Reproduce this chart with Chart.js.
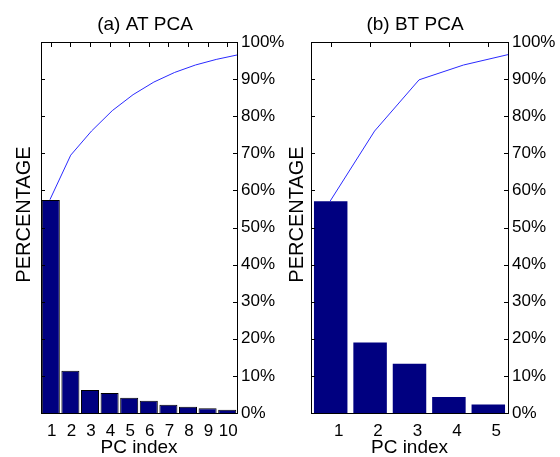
<!DOCTYPE html>
<html>
<head>
<meta charset="utf-8">
<script src="https://cdn.jsdelivr.net/npm/chart.js@4.4.0/dist/chart.umd.min.js"></script>
<style>
  body { margin: 0; background: #fff; width: 560px; height: 457px; position: relative; overflow: hidden; }
  canvas { position: absolute; top: 0; }
  #atChart { left: 0; }
  #btChart { left: 270px; }
</style>
</head>
<body>
<canvas id="atChart" width="290" height="457"></canvas>
<canvas id="btChart" width="290" height="457"></canvas>
<script>
// (a) AT PCA
const atLabels = ['1', '2', '3', '4', '5', '6', '7', '8', '9', '10'];
const atVariance = [57.4, 11.4, 6.2, 5.4, 4.1, 3.3, 2.2, 1.7, 1.3, 0.9];
const atCumulative = [57.5, 69.5, 76.0, 81.5, 85.8, 89.2, 91.8, 93.8, 95.3, 96.5];

// (b) BT PCA
const btLabels = ['1', '2', '3', '4', '5'];
const btVariance = [57.1, 19.0, 13.3, 4.3, 2.3];
const btCumulative = [57.1, 76.0, 89.8, 93.8, 96.6];

const FONT = 'Liberation Sans, Arial, sans-serif';

// matlab style box: top edge + ticks pointing inward
const boxTicks = {
  id: 'boxTicks',
  afterDraw(chart) {
    const {ctx, chartArea: a, scales} = chart;
    ctx.save();
    ctx.strokeStyle = '#000';
    ctx.lineWidth = 1;
    ctx.beginPath();
    ctx.moveTo(a.left, a.top + 0.5);
    ctx.lineTo(a.right, a.top + 0.5);
    scales.y2.ticks.forEach(t => {
      const py = Math.round(scales.y2.getPixelForValue(t.value)) + 0.5;
      ctx.moveTo(a.left, py); ctx.lineTo(a.left + 4, py);
      ctx.moveTo(a.right, py); ctx.lineTo(a.right - 4, py);
    });
    scales.x.ticks.forEach((t, i) => {
      const px = Math.round(scales.x.getPixelForTick(i)) + 0.5;
      ctx.moveTo(px, a.top); ctx.lineTo(px, a.top + 5);
    });
    ctx.stroke();
    ctx.restore();
  }
};

function makeChart(id, title, labels, variance, cumulative, opt) {
  // y label drawn by hand so it can sit a bit above the axis centre like the original
  const yLabel = {
    id: 'yLabel',
    afterDraw(chart) {
      const {ctx, chartArea: a} = chart;
      ctx.save();
      ctx.translate(opt.yLabelX, (a.top + a.bottom) / 2 - 13);
      ctx.rotate(-Math.PI / 2);
      ctx.fillStyle = '#000';
      ctx.font = '20px ' + FONT;
      ctx.textAlign = 'center';
      ctx.textBaseline = 'middle';
      ctx.fillText('PERCENTAGE', 0, 0);
      ctx.restore();
    }
  };

  return new Chart(document.getElementById(id), {
    type: 'bar',
    data: {
      labels: labels,
      datasets: [
        {
          type: 'line',
          data: cumulative.map((v, i) => ({x: i + 1, y: v})),
          xAxisID: 'x2',
          yAxisID: 'y2',
          borderColor: '#2a2aff',
          borderWidth: 1,
          pointRadius: 0,
          tension: 0,
          order: 0,
        },
        {
          data: variance,
          xAxisID: 'x',
          yAxisID: 'y',
          backgroundColor: '#000080',
          borderColor: '#000',
          borderWidth: opt.barBorder,
          barPercentage: opt.barPct,
          categoryPercentage: 1,
          grouped: false,
          order: 1,
        },
      ],
    },
    options: {
      responsive: false,
      animation: false,
      layout: { padding: 0 },
      plugins: {
        legend: { display: false },
        tooltip: { enabled: false },
        title: {
          display: true,
          text: title,
          color: '#000',
          font: { family: FONT, size: 19, weight: 'normal', lineHeight: 1.2 },
          padding: { top: 13, bottom: 6.2 },
        },
      },
      scales: {
        x: {
          type: 'category',
          offset: true,
          grid: { display: false, drawTicks: false },
          border: { display: true, color: '#000' },
          ticks: {
            color: '#000', autoSkip: false, maxRotation: 0, padding: 8,
            labelOffset: opt.labelShift,
            font: { family: FONT, size: 17 },
          },
          title: {
            display: true, text: 'PC index', color: '#000', padding: 0,
            font: { family: FONT, size: 19, lineHeight: 1 },
          },
          afterFit: s => { s.height = 44; },
        },
        x2: { type: 'linear', display: false, offset: false, min: 0.57, max: labels.length },
        y: {
          position: 'left',
          min: 0, max: 100,
          grid: { display: false, drawTicks: false },
          border: { display: true, color: '#000' },
          ticks: { display: false, stepSize: 10 },
          afterFit: s => { s.width = 41; },
        },
        y2: {
          position: 'right',
          min: 0, max: 100,
          grid: { display: false, drawTicks: false },
          border: { display: true, color: '#000' },
          ticks: {
            stepSize: 10, color: '#000', padding: 4,
            font: { family: FONT, size: 17 },
            callback: v => v + '%',
          },
          afterFit: s => { s.width = opt.rightWidth; },
        },
      },
    },
    plugins: [boxTicks, yLabel],
  });
}

makeChart('atChart', '(a) AT PCA', atLabels, atVariance, atCumulative,
  { barBorder: 1, barPct: 0.92, yLabelX: 24, rightWidth: 53, labelShift: 1 });
makeChart('btChart', '(b) BT PCA', btLabels, btVariance, btCumulative,
  { barBorder: 0, barPct: 0.85, yLabelX: 27, rightWidth: 52, labelShift: 8 });
</script>
</body>
</html>
